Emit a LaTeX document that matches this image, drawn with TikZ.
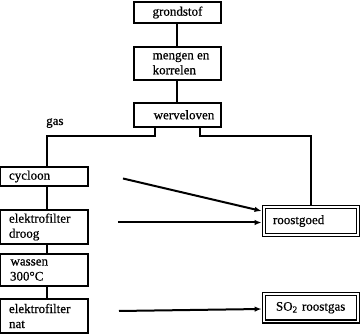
\documentclass[tikz,border=0pt]{standalone}
\usepackage{fontspec}
\setmainfont{Liberation Serif}[BoldFont=Liberation Serif, BoldFeatures={FakeBold=0.6}]
\usetikzlibrary{arrows.meta,calc}
\tikzset{
  txt/.style={font=\fontsize{13}{15}\selectfont\bfseries},
  box/.style={draw, line width=2pt, inner sep=0pt, outer sep=0pt, txt},
  lbox/.style={box, text width=71pt, inner xsep=8.5pt, align=left},
  dbox/.style={draw, double, line width=1.6pt, double distance=1.6pt,
    inner sep=0pt, outer sep=2.4pt, minimum width=94pt, txt, align=left},
  conn/.style={line width=2pt},
  arr/.style={line width=2pt, -{Latex[length=7pt,width=5.5pt]}}
}
\begin{document}
\begin{tikzpicture}[x=1pt,y=-1pt]
\useasboundingbox (0,0) rectangle (360,334);
% top column
\node[box, minimum width=87.8pt, minimum height=21.8pt] (grond) at (177.5,12.5) {grondstof};
\node[box, minimum width=87.8pt, minimum height=33.8pt, align=left] (mengen) at (177.5,63.5) {\hspace*{3.5pt}mengen en\hspace*{-3.5pt}\\\hspace*{3.5pt}korrelen};
\node[box, minimum width=87.8pt, minimum height=24.3pt] (wervel) at (177.5,114.8) {\hspace*{6.5pt}werveloven\hspace*{-6.5pt}};
% left column
\node[lbox, minimum height=19.8pt] (cycloon) at (44.5,176.5) {cycloon};
\node[lbox, minimum height=34.8pt] (droog) at (44.5,227) {elektrofilter\\droog};
\node[lbox, minimum height=32.8pt] (wassen) at (44.5,270) {\hspace*{1.5pt}wassen\\\hspace*{1pt}300°C};
\node[lbox, minimum height=34.8pt] (nat) at (44.5,316) {elektrofilter\\nat};
% right outputs
\node[dbox, minimum height=28pt, text width=76pt, inner xsep=9pt] (roost) at (311,221) {roostgoed};
\node[dbox, minimum height=27.5pt, text width=70pt, inner xsep=12pt] (so) at (311,307.75) {SO\textsubscript{2} roostgas};
% label
\node[txt, inner sep=0pt, anchor=base west] (gas) at (46,125) {gas};
% helper coordinates
\coordinate (vx) at (47,0);
\coordinate (l1) at (155,136);
\coordinate (r1) at (200,136);
\coordinate (rx) at (311,0);
\coordinate (a1) at (123,178.5);
\coordinate (a2) at (118,222.5);
\coordinate (a3) at (119,311);
% connectors
\draw[conn] (grond.south) -- (mengen.north);
\draw[conn] (mengen.south) -- (wervel.north);
\draw[conn] (wervel.south -| l1) -- (l1) -- (l1 -| vx) -- (cycloon.north -| vx);
\draw[conn] (wervel.south -| r1) -- (r1) -- (r1 -| rx) -- (roost.north);
\draw[conn] (cycloon.south -| vx) -- (droog.north -| vx);
\draw[conn] (droog.south -| vx) -- (wassen.north -| vx);
\draw[conn] (wassen.south -| vx) -- (nat.north -| vx);
% arrows
\draw[arr] (a1) -- ([yshift=10pt]roost.west);
\draw[arr] (a2) -- (a2 -| roost.west);
\draw[arr] (a3) -- ([yshift=-1.25pt]so.west);
\end{tikzpicture}
\end{document}
